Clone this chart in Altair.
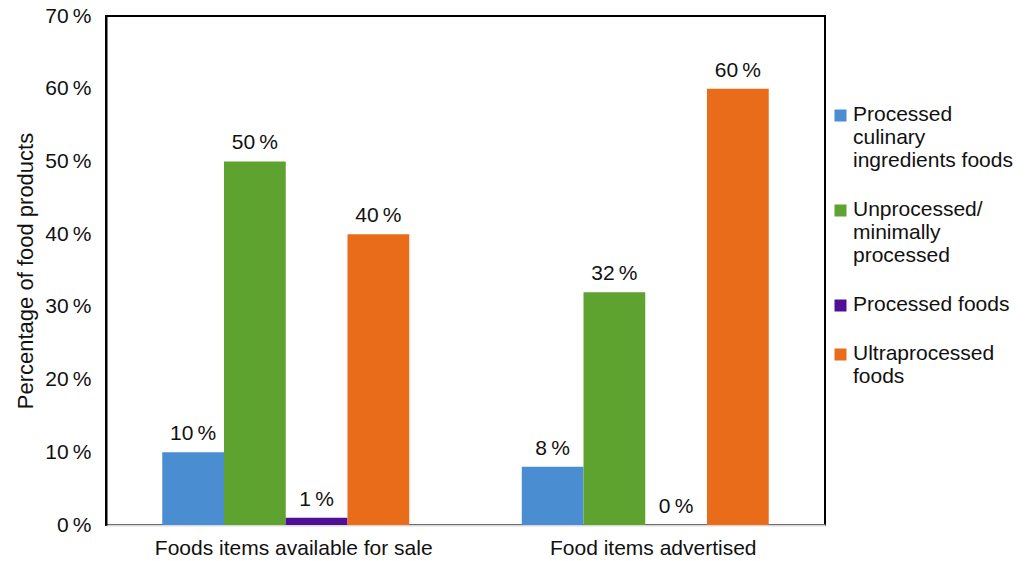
import altair as alt
import pandas as pd

groups = ["Foods items available for sale", "Food items advertised"]
series = [
    "Processed|culinary|ingredients foods",
    "Unprocessed/|minimally|processed",
    "Processed foods",
    "Ultraprocessed|foods",
]
colors = ["#4a8dd0", "#5ea22f", "#510f96", "#e96c1a"]
vals_sale = [10, 50, 1, 40]
vals_adv = [8, 32, 0, 60]
y_ticks = [0, 10, 20, 30, 40, 50, 60, 70]

rows = []
for g, vals in zip(groups, [vals_sale, vals_adv]):
    for s, v in zip(series, vals):
        rows.append({"group": g, "series": s, "value": v})
df = pd.DataFrame(rows)

HS = "\u2009"
FONT = "Liberation Sans"
TXT = "#111111"

base = alt.Chart(df).transform_calculate(
    label=f"datum.value + '{HS}%'"
).encode(
    x=alt.X(
        "group:N",
        sort=groups,
        title=None,
        scale=alt.Scale(paddingInner=0.313, paddingOuter=0.1565),
        axis=alt.Axis(
            labelAngle=0, labelFontSize=21, labelFont=FONT, labelColor=TXT,
            labelPadding=12, ticks=False, domainColor="#d9d9d9", domainWidth=2,
            labelOffset=8, labelLimit=500,
        ),
    ),
    xOffset=alt.XOffset("series:N", sort=series,
                        scale=alt.Scale(paddingInner=0, paddingOuter=0)),
)

bars = base.mark_bar().encode(
    y=alt.Y(
        "value:Q",
        scale=alt.Scale(domain=[0, 70], nice=False),
        axis=alt.Axis(
            values=y_ticks, labelExpr=f"datum.value + '{HS}%'",
            labelFontSize=21, labelFont=FONT, labelColor=TXT, labelPadding=15,
            ticks=False, grid=False, domainColor="black", domainWidth=2,
            title="Percentage of food products", titleFontSize=22, titleFont=FONT,
            titleFontWeight="normal", titleColor=TXT, titleX=-74,
            titleBaseline="alphabetic", titleAngle=270,
        ),
    ),
    color=alt.Color(
        "series:N",
        sort=series,
        scale=alt.Scale(domain=series, range=colors),
        legend=alt.Legend(
            title=None, orient="none", legendX=724, legendY=77,
            symbolType="M-1,1H1V3H-1Z", symbolSize=144, symbolStrokeWidth=0,
            labelFontSize=21, labelFont=FONT, labelColor=TXT, labelLimit=400,
            labelExpr="split(datum.label, '|')", labelBaseline="top",
            labelOffset=2, rowPadding=17, padding=0,
        ),
    ),
)

text = base.mark_text(
    baseline="alphabetic", dy=-12, fontSize=21, font=FONT, color=TXT
).encode(
    y=alt.Y("value:Q"),
    text=alt.Text("label:N"),
)

chart = (
    alt.layer(bars, text)
    .properties(
        width=719, height=509,
        autosize=alt.AutoSizeParams(type="none"),
        padding={"left": 106, "top": 16, "right": 205, "bottom": 36},
        background="white",
    )
    .configure_view(stroke="black", strokeWidth=2)
)

chart.save("out.html", embed_options={"renderer": "svg", "actions": False})
